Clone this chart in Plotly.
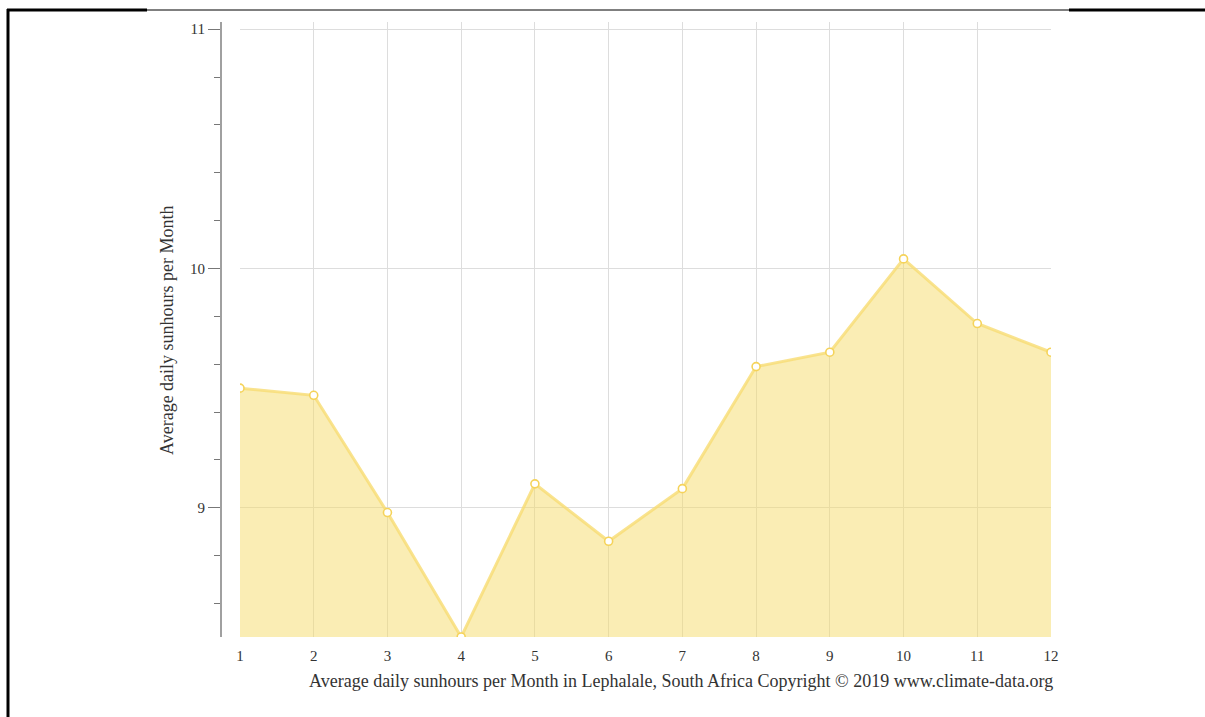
import plotly.graph_objects as go

# Average daily sunshine hours per month, Lephalale (South Africa)
months = [1, 2, 3, 4, 5, 6, 7, 8, 9, 10, 11, 12]
sunhours = [9.50, 9.47, 8.98, 8.46, 9.10, 8.86, 9.08, 9.59, 9.65, 10.04, 9.77, 9.65]
y_ticks = [9, 10, 11]

W, H = 1205, 717
FONT = "Liberation Serif, Times New Roman, serif"

def px_x(p):
    return p / W

def px_y(p):
    return 1 - p / H

fig = go.Figure()
fig.add_trace(go.Scatter(
    x=months,
    y=sunhours,
    mode="lines+markers",
    fill="tozeroy",
    fillcolor="rgba(246,220,105,0.5)",
    line=dict(color="rgba(247,220,115,0.8)", width=3),
    marker=dict(size=8, color="white", line=dict(color="#f5d35a", width=1.6)),
    hoverinfo="x+y",
    showlegend=False,
))

fig.update_layout(
    width=W,
    height=H,
    autosize=False,
    margin=dict(l=0, r=0, t=0, b=0, pad=0, autoexpand=False),
    paper_bgcolor="white",
    plot_bgcolor="white",
    font=dict(family=FONT, color="#333", size=12),
    xaxis=dict(
        domain=[px_x(240), px_x(1051)],
        range=[1, 12],
        automargin=False,
        tickmode="array",
        tickvals=months,
        ticktext=[str(m) for m in months],
        showgrid=True,
        gridcolor="#dddddd",
        gridwidth=1,
        zeroline=False,
        showline=False,
        ticks="outside",
        ticklen=5,
        tickcolor="rgba(0,0,0,0)",
        tickfont=dict(family=FONT, size=15, color="#333"),
    ),
    yaxis=dict(
        domain=[px_y(637), px_y(22)],
        range=[8.46, 11.03],
        anchor="free",
        position=px_x(221),
        automargin=False,
        tickmode="array",
        tickvals=y_ticks,
        ticktext=[str(v) for v in y_ticks],
        showgrid=True,
        gridcolor="#dddddd",
        gridwidth=1,
        zeroline=False,
        showline=True,
        linecolor="#a0a0a0",
        linewidth=2,
        ticks="outside",
        ticklen=12,
        tickwidth=1,
        tickcolor="#777777",
        tickfont=dict(family=FONT, size=15, color="#333"),
        minor=dict(dtick=0.2, tick0=9, ticks="outside", ticklen=6,
                   tickcolor="#777777", tickwidth=1, showgrid=False),
    ),
    annotations=[
        dict(
            text="Average daily sunhours per Month in Lephalale, South Africa Copyright © 2019 www.climate-data.org",
            xref="paper", yref="paper",
            x=px_x(1055), y=px_y(681),
            xanchor="right", yanchor="middle",
            showarrow=False,
            font=dict(family=FONT, size=18, color="#333"),
        ),
        dict(
            text="Average daily sunhours per Month",
            xref="paper", yref="paper",
            x=px_x(167), y=px_y(330),
            xanchor="center", yanchor="middle",
            textangle=-90,
            showarrow=False,
            font=dict(family=FONT, size=18, color="#333"),
        ),
    ],
    shapes=[
        # page frame lines
        dict(type="line", xref="paper", yref="paper",
             x0=px_x(7), x1=px_x(147), y0=px_y(10), y1=px_y(10),
             line=dict(color="black", width=3)),
        dict(type="line", xref="paper", yref="paper",
             x0=px_x(147), x1=px_x(1069), y0=px_y(10), y1=px_y(10),
             line=dict(color="black", width=1)),
        dict(type="line", xref="paper", yref="paper",
             x0=px_x(1069), x1=1, y0=px_y(10), y1=px_y(10),
             line=dict(color="black", width=3)),
        dict(type="line", xref="paper", yref="paper",
             x0=px_x(8), x1=px_x(8), y0=px_y(9), y1=0,
             line=dict(color="black", width=3)),
    ],
)

fig.write_html("out.html")
